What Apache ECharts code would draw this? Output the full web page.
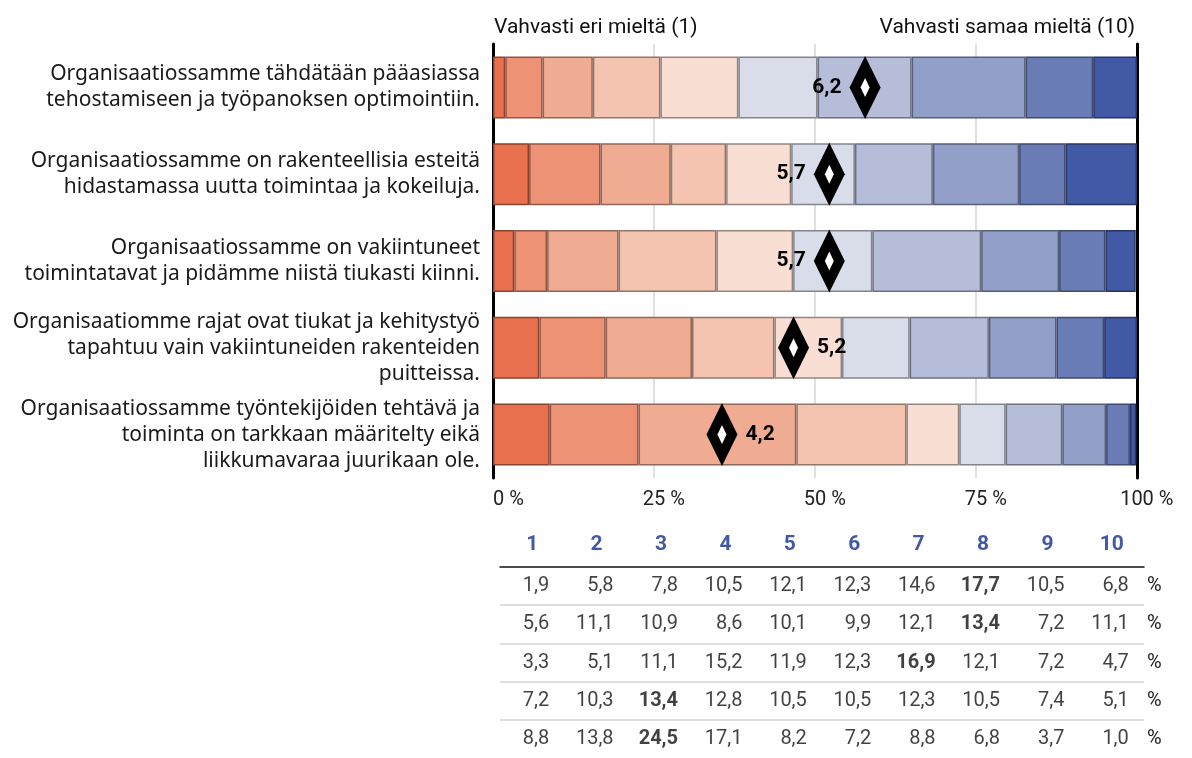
<!DOCTYPE html>
<html>
<head>
<meta charset="utf-8">
<script src="https://cdn.jsdelivr.net/npm/echarts@6/dist/echarts.min.js"></script>
<style>
  html, body { margin: 0; padding: 0; background: #fff; }
  #chart { width: 1192px; height: 758px; }
</style>
</head>
<body>
<div id="chart"></div>
<script>
// Statements (one stacked bar each), top to bottom
const statements = [
  'Organisaatiossamme tähdätään pääasiassa\ntehostamiseen ja työpanoksen optimointiin.',
  'Organisaatiossamme on rakenteellisia esteitä\nhidastamassa uutta toimintaa ja kokeiluja.',
  'Organisaatiossamme on vakiintuneet\ntoimintatavat ja pidämme niistä tiukasti kiinni.',
  'Organisaatiomme rajat ovat tiukat ja kehitystyö\ntapahtuu vain vakiintuneiden rakenteiden\npuitteissa.',
  'Organisaatiossamme työntekijöiden tehtävä ja\ntoiminta on tarkkaan määritelty eikä\nliikkumavaraa juurikaan ole.'
];

// Answer scale 1..10
const scale = ['1', '2', '3', '4', '5', '6', '7', '8', '9', '10'];

// Share of answers (%) per scale point, one row per statement
const shares = [
  [1.9, 5.8, 7.8, 10.5, 12.1, 12.3, 14.6, 17.7, 10.5, 6.8],
  [5.6, 11.1, 10.9, 8.6, 10.1, 9.9, 12.1, 13.4, 7.2, 11.1],
  [3.3, 5.1, 11.1, 15.2, 11.9, 12.3, 16.9, 12.1, 7.2, 4.7],
  [7.2, 10.3, 13.4, 12.8, 10.5, 10.5, 12.3, 10.5, 7.4, 5.1],
  [8.8, 13.8, 24.5, 17.1, 8.2, 7.2, 8.8, 6.8, 3.7, 1.0]
];

// Mean answer per statement
const means = [6.2, 5.7, 5.7, 5.2, 4.2];

// Which side of the diamond the mean label sits on
const meanLabelSide = ['left', 'left', 'left', 'right', 'right'];

// Percent axis ticks
const xTicks = [0, 25, 50, 75, 100];

// Scale end captions
const leftCaption = 'Vahvasti eri mieltä (1)';
const rightCaption = 'Vahvasti samaa mieltä (10)';

// Diverging palette, red (1) to blue (10)
const palette = ['#E8704F', '#EE9275', '#F0AC93', '#F4C4B1', '#F8DED3',
                 '#D9DDEA', '#B5BDD9', '#919FC9', '#6A7CB5', '#4259A5'];

function darken(hex, k) {
  const n = parseInt(hex.slice(1), 16);
  const r = Math.round(((n >> 16) & 255) * k);
  const g = Math.round(((n >> 8) & 255) * k);
  const b = Math.round((n & 255) * k);
  return 'rgb(' + r + ',' + g + ',' + b + ')';
}
const fmt = v => v.toFixed(1).replace('.', ',');

const COND = 'Roboto, "Noto Sans", sans-serif';
const REG = '"Noto Sans", Roboto, sans-serif';

// Mean (1..10) mapped onto the 0..100 % axis
const meanPos = m => (m - 1) / 9 * 100;

const barSeries = scale.map((s, i) => ({
  name: s,
  type: 'bar',
  stack: 'share',
  xAxisIndex: 0,
  yAxisIndex: 0,
  barWidth: 62,
  silent: true,
  itemStyle: { color: palette[i], borderColor: darken(palette[i], 0.6), borderWidth: 1.5 },
  data: shares.map(row => row[i]),
  z: 2
}));

const meanOuter = {
  type: 'scatter',
  xAxisIndex: 0,
  yAxisIndex: 0,
  symbol: 'diamond',
  symbolSize: [31, 63],
  itemStyle: { color: '#000', opacity: 1 },
  z: 5,
  data: means.map((m, r) => ({
    value: [meanPos(m), r],
    label: {
      show: true,
      position: meanLabelSide[r],
      distance: 8,
      formatter: fmt(m),
      fontFamily: COND,
      fontWeight: 'bold',
      fontSize: 21,
      color: '#000'
    }
  }))
};

const meanInner = {
  type: 'scatter',
  xAxisIndex: 0,
  yAxisIndex: 0,
  symbol: 'diamond',
  symbolSize: [9, 19],
  itemStyle: { color: '#fff', opacity: 1 },
  z: 6,
  silent: true,
  data: means.map((m, r) => [meanPos(m), r])
};

// Table cells: column = scale point, row = statement
const tableData = [];
shares.forEach((row, r) => {
  const max = Math.max.apply(null, row);
  row.forEach((v, c) => {
    tableData.push({
      value: [c, r, v],
      label: { fontWeight: v === max ? 'bold' : 'normal' }
    });
  });
});

const tableSeries = {
  type: 'scatter',
  xAxisIndex: 1,
  yAxisIndex: 2,
  symbolSize: 0,
  silent: true,
  data: tableData,
  label: {
    show: true,
    position: 'inside',
    align: 'right',
    offset: [17, 0],
    fontFamily: COND,
    fontSize: 20,
    color: '#111',
    formatter: p => fmt(p.value[2])
  }
};

const chart = echarts.init(document.getElementById('chart'), null, { renderer: 'canvas' });
chart.setOption({
  animation: false,
  backgroundColor: '#fff',
  title: [
    { text: leftCaption, left: 489, top: 12,
      textStyle: { fontFamily: COND, fontWeight: 'normal', fontSize: 21, color: '#111' } },
    { text: rightCaption, right: 52, top: 12,
      textStyle: { fontFamily: COND, fontWeight: 'normal', fontSize: 21, color: '#111' } }
  ],
  grid: [
    { left: 493, right: 55, top: 44, height: 434 },
    { left: 500, right: 48, top: 567, height: 197 }
  ],
  xAxis: [
    {
      type: 'value', gridIndex: 0, min: 0, max: 100, interval: 25,
      axisLine: { show: false },
      axisTick: { show: false },
      splitLine: { show: true, lineStyle: { color: '#d6d6d6', width: 1.5 } },
      axisLabel: {
        margin: 12, fontFamily: COND, fontSize: 20, color: '#222',
        alignMinLabel: 'left',
        // the number sits centred on its tick, the unit trails after it
        formatter: v => (xTicks.indexOf(v) < 0 ? '' : (v === 0 ? '0 %' : '{g| %}' + v + ' %')),
        rich: { g: { color: 'rgba(0,0,0,0)', fontSize: 20, fontFamily: COND } }
      }
    },
    {
      type: 'category', gridIndex: 1, data: scale, position: 'top',
      axisLine: { show: true, lineStyle: { color: '#111', width: 1.5 } },
      axisTick: { show: false },
      axisLabel: { margin: 12, fontFamily: COND, fontWeight: 'bold', fontSize: 21, color: '#4259A5' }
    }
  ],
  yAxis: [
    {
      type: 'category', gridIndex: 0, data: statements, inverse: true,
      axisLine: { show: true, lineStyle: { color: '#000', width: 3 } },
      axisTick: { show: false },
      axisLabel: { margin: 13, fontFamily: REG, fontSize: 21, lineHeight: 26, color: '#1a1a1a' }
    },
    {
      type: 'category', gridIndex: 0, data: statements, inverse: true, position: 'right',
      axisLine: { show: true, onZero: false, lineStyle: { color: '#000', width: 3 } },
      axisTick: { show: false },
      axisLabel: { show: false }
    },
    {
      type: 'category', gridIndex: 1, data: statements, inverse: true, position: 'right',
      axisLine: { show: false },
      axisTick: { show: false },
      splitLine: { show: true, showMinLine: false, showMaxLine: false,
                   lineStyle: { color: '#d4d4d4', width: 1.5 } },
      axisLabel: { margin: 3, align: 'left', formatter: () => '%',
                   fontFamily: COND, fontSize: 20, color: '#222' }
    }
  ],
  series: barSeries.concat([meanOuter, meanInner, tableSeries])
});
</script>
</body>
</html>
